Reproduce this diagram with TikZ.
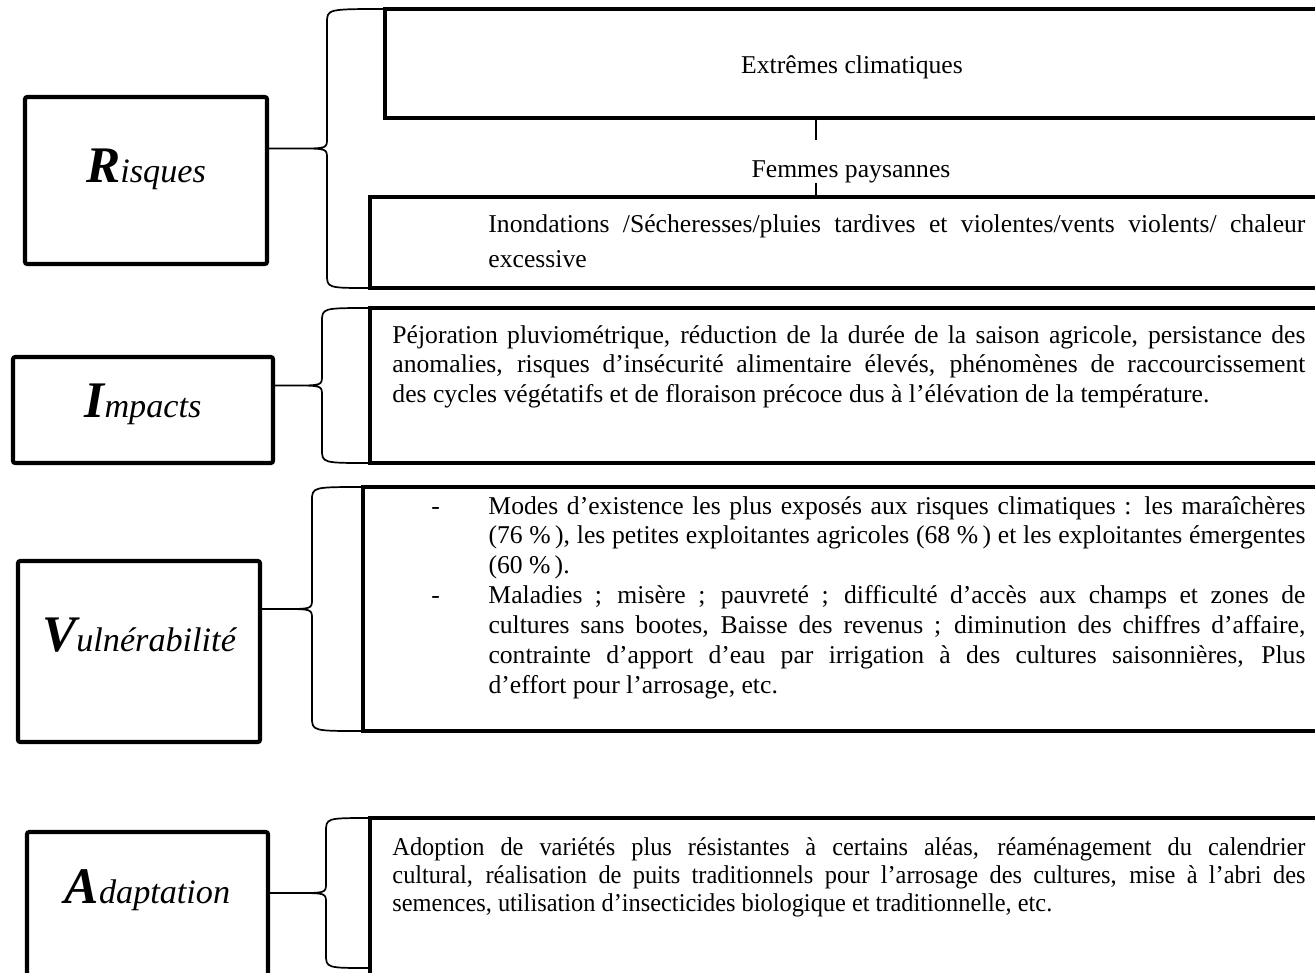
\documentclass[tikz,border=0pt]{standalone}
\usepackage{fontspec}
\setmainfont{Liberation Serif}
\newfontfamily\etroit[FakeStretch=0.95]{Liberation Serif}
\usepackage{tikz}
\usetikzlibrary{calc}
\hyphenpenalty=10000
\exhyphenpenalty=10000
\tolerance=10000

% 1 px of the figure
\newcommand{\upx}{0.4678pt}
\newcommand{\titre}[2]{{\bfseries\itshape\fontsize{24}{24}\selectfont #1}{\itshape\fontsize{16}{16}\selectfont #2}}
\newcommand{\tiret}{\noindent\hangindent=26.7pt\hangafter=1\makebox[26.7pt][l]{-}}
% #1 haut, #2 bas, #3 boite de gauche, #4 abscisse du dos, #5 nom
\newcommand{\accolade}[5]{%
  \coordinate (#5-m) at ($(#1)!0.5!(#2)$);
  \coordinate (#5-d) at (#4,0);
  \draw[accolade] (#1) .. controls (#5-d |- #1) .. ($(#5-d |- #1)+(0,14)$)
    -- ($(#5-d |- #5-m)+(0,-10)$) .. controls (#5-d |- #5-m) .. ($(#5-d |- #5-m)+(-30,0)$)
    -- (#3.east |- #5-m) -- ($(#5-d |- #5-m)+(-30,0)$)
    .. controls (#5-d |- #5-m) .. ($(#5-d |- #5-m)+(0,10)$)
    -- ($(#5-d |- #2)+(0,-14)$) .. controls (#5-d |- #2) .. (#2);
}

\begin{document}
\begin{tikzpicture}[x=0.4678pt, y=-0.4678pt,
    etiquette/.style={draw, line width=1.9pt, rounded corners=1pt, outer sep=0pt, inner sep=2pt, text height=16pt},
    cadre/.style={draw, line width=1.9pt, outer sep=0pt, anchor=north west},
    texte/.style={anchor=base west, inner sep=0pt, align=justify, font=\fontsize{12}{14}\selectfont},
    libelle/.style={anchor=base, inner sep=0pt, font=\fontsize{12}{14}\selectfont},
    accolade/.style={line width=0.8pt},
    fin/.style={line width=0.7pt}]
    \useasboundingbox (0,0) rectangle (1315,972);
    \clip (0,0) rectangle (1315,972);

    % boites de gauche
    \node[etiquette, minimum width=242*\upx, minimum height=167*\upx, text depth=14.6pt] (risq) at (146,180.5) {\titre{R}{isques}};
    \node[etiquette, minimum width=260*\upx, minimum height=106*\upx, text depth=9.4pt] (imp) at (143,410) {\titre{I}{mpacts}};
    \node[etiquette, minimum width=242*\upx, minimum height=181*\upx, text depth=16pt] (vul) at (139,651.5) {\titre{V}{ulnérabilité}};
    \node[etiquette, minimum width=241*\upx, minimum height=158*\upx, text depth=23.5pt] (adap) at (147.5,911) {\titre{A}{daptation}};

    % cadres de droite
    \node[cadre, minimum width=945*\upx, minimum height=109*\upx] (ext) at (385,9) {};
    \node[cadre, minimum width=960*\upx, minimum height=91*\upx] (ino) at (370,197) {};
    \node[cadre, minimum width=960*\upx, minimum height=155*\upx] (impr) at (370,308) {};
    \node[cadre, minimum width=967*\upx, minimum height=244*\upx] (vulr) at (363,487) {};
    \node[cadre, minimum width=960*\upx, minimum height=182*\upx] (adapr) at (370,818) {};
    \coordinate (adb) at (370,968);

    \node[libelle] (t-ext) at (852,73) {Extrêmes climatiques};
    \node[libelle, text height=17pt, text depth=2.8pt] (femmes) at (851,177) {Femmes paysannes};
    \coordinate (lien) at (816,0);
    \draw[fin] (ext.south -| lien) -- (femmes.north -| lien);
    \draw[fin] (femmes.south -| lien) -- (ino.north -| lien);

    \node[texte, text width=817*\upx, font=\fontsize{12}{16.4}\selectfont] (t-ino) at (488,232) {Inondations /Sécheresses/pluies tardives et violentes/vents violents/ chaleur\linebreak excessive};
    \node[texte, text width=913*\upx] (t-imp) at (392,343) {Péjoration pluviométrique, réduction de la durée de la saison agricole, persistance des\linebreak anomalies, risques d’insécurité alimentaire élevés, phénomènes de raccourcissement\linebreak des cycles végétatifs et de floraison précoce dus à l’élévation de la température.};
    \node[texte, text width=874*\upx] (t-vul) at (431,514) {\tiret Modes d’existence les plus exposés aux risques climatiques~: les maraîchères\linebreak (76~\%\,), les petites exploitantes agricoles (68~\%\,) et les exploitantes émergentes\linebreak (60~\%\,).\par
        \tiret Maladies~; misère~; pauvreté~; difficulté d’accès aux champs et zones de\linebreak cultures sans bootes, Baisse des revenus~; diminution des chiffres d’affaire,\linebreak contrainte d’apport d’eau par irrigation à des cultures saisonnières, Plus\linebreak d’effort pour l’arrosage, etc.\par};
    \node[texte, text width=913*\upx, font=\etroit\fontsize{12}{13.1}\selectfont] (t-adap) at (392,855) {Adoption de variétés plus résistantes à certains aléas, réaménagement du calendrier\linebreak cultural, réalisation de puits traditionnels pour l’arrosage des cultures, mise à l’abri des\linebreak semences, utilisation d’insecticides biologique et traditionnelle, etc.};

    % accolades
    \accolade{ext.north west}{ino.south west}{risq}{327}{a1}
    \accolade{impr.north west}{impr.south west}{imp}{322}{a2}
    \accolade{vulr.north west}{vulr.south west}{vul}{312}{a3}
    \accolade{adapr.north west}{adb}{adap}{326}{a4}
\end{tikzpicture}
\end{document}
